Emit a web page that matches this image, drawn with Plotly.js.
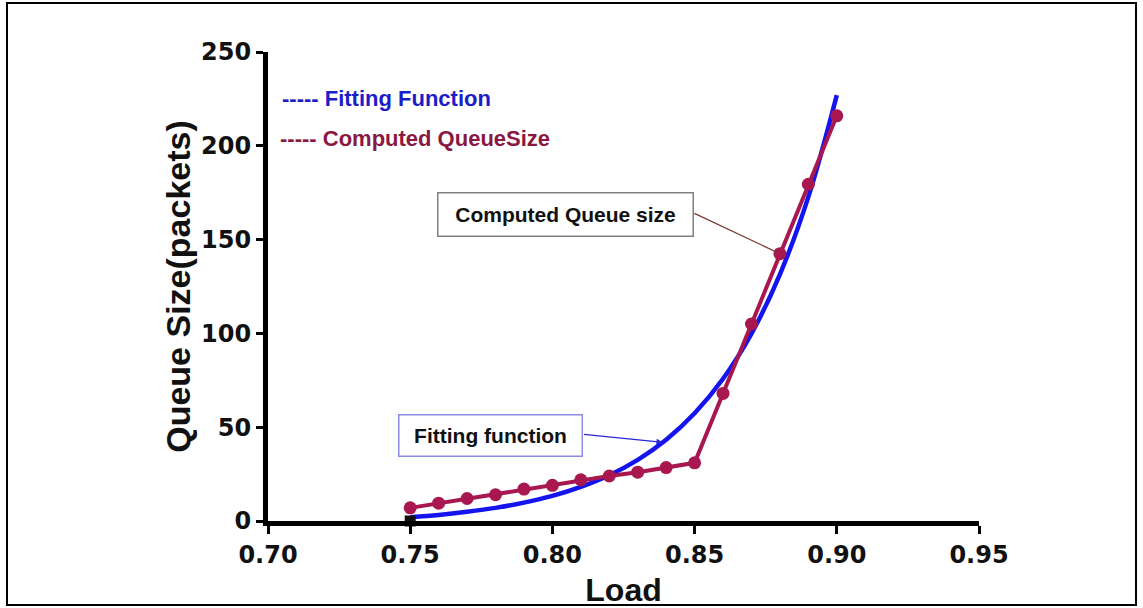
<!DOCTYPE html>
<html>
<head>
<meta charset="utf-8">
<script src="https://cdn.plot.ly/plotly-3.0.1.min.js"></script>
<style>
html,body{margin:0;padding:0;background:#fff;}
#chart{width:1143px;height:608px;}
</style>
</head>
<body>
<div id="chart"></div>
<script>
// Load values (x) for computed queue size
var loadComputed = [0.75,0.76,0.77,0.78,0.79,0.80,0.81,0.82,0.83,0.84,0.85,0.86,0.87,0.88,0.89,0.90];
var queueComputed = [7,9.5,12,14,17,19,22,24,26,28.5,31,68,105,142.5,179.5,216];
// Fitting function
var loadFit = [0.75,0.76,0.77,0.78,0.79,0.80,0.81,0.82,0.83,0.84,0.85,0.86,0.87,0.88,0.89,0.90];
var queueFit = [2,3.2,4.9,7,9.8,13.4,18.2,24.4,32.6,43.3,57.4,75.8,99.9,131.5,172.8,227];
var startX = [0.75];
var startY = [0];
var xTicks = [0.70,0.75,0.80,0.85,0.90,0.95];
var yTicks = [0,50,100,150,200,250];
var seriesNames = ['Fitting Function','Computed QueueSize'];

var red = '#a8174f';
var blue = '#1414ee';
var boldArial = 'Liberation Sans, Arial, sans-serif';
var dejavu = 'DejaVu Sans, sans-serif';

var traces = [
  {x: loadFit, y: queueFit, type:'scatter', mode:'lines', name: seriesNames[0],
   line:{color:blue, width:4.5, shape:'spline', smoothing:1}, cliponaxis:false, showlegend:false},
  {x: loadComputed, y: queueComputed, type:'scatter', mode:'lines+markers', name: seriesNames[1],
   line:{color:red, width:4}, marker:{color:red, size:13}, cliponaxis:false, showlegend:false},
  {x: startX, y: startY, type:'scatter', mode:'markers', showlegend:false, cliponaxis:false,
   marker:{color:'#111', size:11, symbol:'square'}}
];

var L=268, R=979, T=52, B=521;
function px(x){return (x-L)/(R-L);}
function py(y){return (B-y)/(B-T);}

var layout = {
  width:1143, height:608,
  margin:{l:L, r:1143-R, t:T, b:608-B, pad:0},
  paper_bgcolor:'#fff', plot_bgcolor:'#fff',
  showlegend:false,
  xaxis:{
    range:[0.70,0.95], tickvals:xTicks, ticktext:xTicks.map(function(v){return v.toFixed(2);}),
    showgrid:false, zeroline:false, showline:true, linecolor:'#000', linewidth:5,
    ticks:'outside', ticklen:8, tickwidth:3, tickcolor:'#000',
    tickfont:{family:dejavu, size:24, color:'#111', weight:'bold'},
    title:{text:'<b>Load</b>', font:{family:boldArial, size:32, color:'#111'}, standoff:26}
  },
  yaxis:{
    range:[0,250], tickvals:yTicks, ticktext:yTicks.map(String),
    showgrid:false, zeroline:false, showline:true, linecolor:'#000', linewidth:5,
    ticks:'outside', ticklen:7, tickwidth:3, tickcolor:'#000',
    tickfont:{family:dejavu, size:24, color:'#111', weight:'bold'},
    title:{text:'<b>Queue Size(packets)</b>', font:{family:boldArial, size:34, color:'#111'}, standoff:2}
  },
  annotations:[
    {xref:'paper', yref:'paper', x:px(280), y:py(98), xanchor:'left', yanchor:'middle', showarrow:false,
     text:'<b>----- '+seriesNames[0]+'</b>', font:{family:boldArial, size:22, color:'#1c1cc8'}},
    {xref:'paper', yref:'paper', x:px(278), y:py(138), xanchor:'left', yanchor:'middle', showarrow:false,
     text:'<b>----- '+seriesNames[1]+'</b>', font:{family:boldArial, size:22, color:'#8a1842'}},
    {xref:'paper', yref:'paper', x:px(565), y:py(214), xanchor:'center', yanchor:'middle', showarrow:false,
     text:'<b>Computed Queue size</b>', font:{family:boldArial, size:21, color:'#111'},
     bordercolor:'#808080', borderwidth:1.5, borderpad:5, width:244, height:32, bgcolor:'#fff'},
    {xref:'paper', yref:'paper', x:px(490), y:py(435.5), xanchor:'center', yanchor:'middle', showarrow:false,
     text:'<b>Fitting function</b>', font:{family:boldArial, size:21, color:'#111'},
     bordercolor:'#8c8ce6', borderwidth:1.5, borderpad:5, width:172, height:30, bgcolor:'#fff'},
    {xref:'x', yref:'y', x:loadComputed[13], y:queueComputed[13], text:'', showarrow:true,
     ax:-87, ay:-41, arrowhead:0, arrowwidth:1.2, arrowcolor:'#7a3a30', standoff:0},
    {xref:'x', yref:'y', x:0.8387, y:42, text:'', showarrow:true,
     ax:-80, ay:-8, arrowhead:2, arrowsize:1, arrowwidth:1.2, arrowcolor:'#2828d8', standoff:0}
  ],
  shapes:[
    {type:'rect', xref:'paper', yref:'paper', x0:px(7), x1:px(1136), y0:py(605), y1:py(3),
     line:{color:'#000', width:2}, fillcolor:'rgba(0,0,0,0)', layer:'above'}
  ]
};

Plotly.newPlot('chart', traces, layout, {displayModeBar:false, staticPlot:true});
</script>
</body>
</html>
